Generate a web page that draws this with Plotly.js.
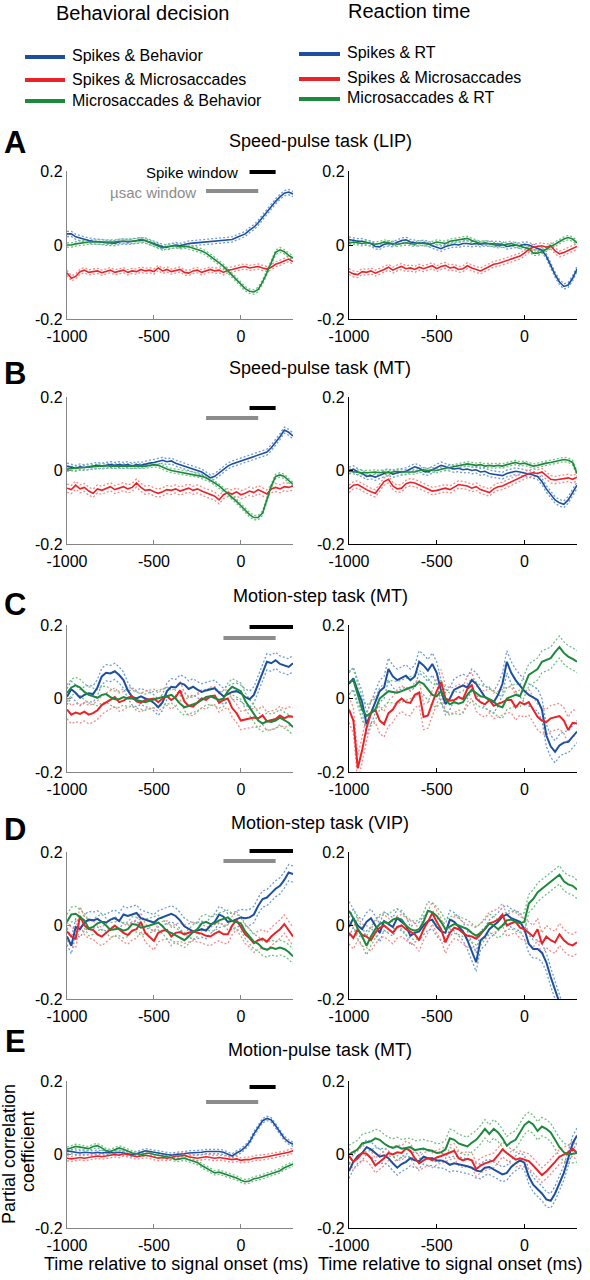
<!DOCTYPE html>
<html><head><meta charset="utf-8">
<script src="https://cdn.plot.ly/plotly-3.0.1.min.js"></script>
<style>html,body{margin:0;padding:0;background:#fff}</style>
</head><body><div id="chart" style="width:590px;height:1280px"></div>
<script>
// ---------- data ----------
const timeMs = [-1000,-975,-950,-925,-900,-875,-850,-825,-800,-775,
-750,-725,-700,-675,-650,-625,-600,-575,-550,-525,
-500,-475,-450,-425,-400,-375,-350,-325,-300,-275,
-250,-225,-200,-175,-150,-125,-100,-75,-50,-25,
0,25,50,75,100,125,150,175,200,225,
250,275,300];

const columnHeaders = ["Behavioral decision", "Reaction time"];
const legendBehavior = ["Spikes & Behavior", "Spikes & Microsaccades", "Microsaccades & Behavior"];
const legendRT = ["Spikes & RT", "Spikes & Microsaccades", "Microsaccades & RT"];
const panelLetters = ["A","B","C","D","E"];
const panelTitles = ["Speed-pulse task (LIP)","Speed-pulse task (MT)","Motion-step task (MT)","Motion-step task (VIP)","Motion-pulse task (MT)"];
const xTickVals = [-1000,-500,0];
const xTickText = ["-1000","-500","0"];
const yTickVals = [-0.2,0,0.2];
const yTickText = ["-0.2","0","0.2"];
const xTitle = "Time relative to signal onset (ms)";
const yTitleLines = ["Partial correlation","coefficient"];

// analysis windows (ms) per row
const spikeWindows = [[50,200],[50,200],[50,300],[50,300],[50,200]];
const usacWindows = [[-200,100],[-200,100],[-100,200],[-100,200],[-200,100]];

// Row A
const A_beh_blue = [0.030,0.030,0.022,0.018,0.015,0.012,0.010,0.010,0.008,0.006,
0.005,0.005,0.008,0.010,0.008,0.010,0.012,0.013,0.012,0.008,
0.005,0.000,-0.005,-0.006,-0.002,0.000,-0.002,0.002,0.004,0.005,
0.006,0.008,0.008,0.010,0.010,0.010,0.012,0.012,0.015,0.020,
0.025,0.030,0.040,0.048,0.060,0.075,0.090,0.105,0.118,0.130,
0.140,0.143,0.138];
const A_beh_red = [-0.075,-0.090,-0.085,-0.072,-0.068,-0.074,-0.072,-0.070,-0.075,-0.072,
-0.068,-0.074,-0.070,-0.068,-0.074,-0.070,-0.072,-0.066,-0.070,-0.068,
-0.072,-0.062,-0.070,-0.066,-0.072,-0.070,-0.066,-0.074,-0.076,-0.070,
-0.068,-0.074,-0.070,-0.066,-0.070,-0.068,-0.074,-0.068,-0.066,-0.062,
-0.060,-0.058,-0.062,-0.060,-0.058,-0.062,-0.065,-0.060,-0.052,-0.048,
-0.042,-0.038,-0.045];
const A_beh_green = [0.000,0.000,0.003,0.005,0.006,0.008,0.008,0.008,0.006,0.007,
0.008,0.008,0.010,0.010,0.008,0.010,0.012,0.015,0.012,0.008,
0.002,-0.003,-0.008,-0.004,-0.003,-0.002,-0.005,-0.003,-0.005,-0.008,
-0.012,-0.016,-0.022,-0.030,-0.038,-0.048,-0.058,-0.070,-0.082,-0.095,
-0.108,-0.118,-0.125,-0.127,-0.120,-0.100,-0.075,-0.045,-0.020,-0.013,
-0.018,-0.028,-0.035];
const A_rt_blue = [0.015,0.012,0.010,0.010,0.008,0.004,-0.004,-0.005,0.002,0.004,
0.002,0.008,0.012,0.014,0.008,0.006,0.004,0.006,0.004,-0.002,
-0.006,-0.010,-0.004,-0.002,0.002,0.000,0.004,0.004,0.002,0.004,
0.002,0.004,0.004,0.002,0.004,0.002,-0.004,-0.002,0.000,-0.002,
0.002,0.000,-0.004,-0.008,-0.014,-0.030,-0.055,-0.080,-0.100,-0.112,
-0.108,-0.090,-0.065];
const A_rt_red = [-0.072,-0.078,-0.080,-0.072,-0.074,-0.070,-0.076,-0.072,-0.066,-0.060,
-0.068,-0.062,-0.058,-0.064,-0.062,-0.066,-0.060,-0.064,-0.060,-0.056,
-0.064,-0.058,-0.055,-0.062,-0.060,-0.066,-0.064,-0.056,-0.062,-0.066,
-0.070,-0.064,-0.058,-0.052,-0.050,-0.046,-0.044,-0.040,-0.036,-0.030,
-0.022,-0.012,-0.006,-0.004,-0.002,-0.006,-0.002,-0.016,-0.024,-0.020,
-0.014,-0.008,-0.004];
const A_rt_green = [0.005,0.008,0.006,0.004,0.006,0.004,0.002,0.004,0.008,0.006,
0.004,0.002,0.004,0.006,0.004,0.002,0.006,0.004,0.002,0.004,
0.008,0.006,0.004,0.010,0.012,0.014,0.016,0.018,0.012,0.008,
0.004,0.006,0.004,0.002,-0.002,0.000,0.002,0.004,0.000,-0.004,
-0.006,-0.010,-0.022,-0.022,-0.018,-0.010,-0.004,0.002,0.010,0.016,
0.020,0.016,0.006];

// Row B
const B_beh_blue = [0.012,0.008,0.006,0.010,0.008,0.010,0.012,0.014,0.012,0.014,
0.016,0.014,0.016,0.014,0.016,0.012,0.016,0.014,0.018,0.020,
0.022,0.024,0.028,0.024,0.026,0.020,0.016,0.012,0.008,0.004,
0.000,-0.004,-0.012,-0.020,-0.016,-0.006,0.004,0.012,0.018,0.022,
0.026,0.030,0.034,0.040,0.044,0.046,0.050,0.062,0.076,0.092,
0.110,0.104,0.094];
const B_beh_red = [-0.048,-0.052,-0.040,-0.050,-0.046,-0.056,-0.062,-0.050,-0.054,-0.048,
-0.044,-0.052,-0.048,-0.044,-0.050,-0.046,-0.034,-0.046,-0.054,-0.052,
-0.058,-0.062,-0.058,-0.052,-0.054,-0.050,-0.056,-0.052,-0.048,-0.054,
-0.050,-0.056,-0.060,-0.064,-0.070,-0.080,-0.066,-0.060,-0.064,-0.058,
-0.066,-0.062,-0.056,-0.060,-0.052,-0.058,-0.064,-0.050,-0.046,-0.050,
-0.044,-0.046,-0.042];
const B_beh_green = [0.004,0.005,0.006,0.008,0.008,0.010,0.010,0.012,0.012,0.013,
0.012,0.012,0.012,0.010,0.010,0.012,0.010,0.012,0.012,0.014,
0.016,0.014,0.008,0.004,0.000,-0.002,-0.004,-0.006,-0.008,-0.010,
-0.012,-0.016,-0.020,-0.026,-0.034,-0.042,-0.052,-0.062,-0.072,-0.084,
-0.096,-0.108,-0.120,-0.128,-0.128,-0.116,-0.080,-0.042,-0.016,-0.012,
-0.016,-0.026,-0.038];
const B_rt_blue = [0.000,0.004,-0.004,-0.008,-0.016,-0.014,-0.018,-0.012,-0.008,-0.004,
-0.010,-0.006,-0.004,-0.002,0.004,0.010,0.006,-0.002,-0.004,0.002,
0.010,0.014,0.010,0.006,0.004,0.006,0.002,0.004,0.000,0.002,
-0.004,-0.002,-0.008,-0.010,-0.012,-0.014,-0.008,-0.004,-0.002,-0.004,
-0.006,-0.010,-0.012,-0.016,-0.030,-0.050,-0.066,-0.080,-0.088,-0.092,
-0.080,-0.060,-0.040];
const B_rt_red = [-0.050,-0.040,-0.038,-0.046,-0.052,-0.058,-0.062,-0.046,-0.030,-0.024,
-0.042,-0.050,-0.048,-0.036,-0.032,-0.034,-0.040,-0.046,-0.052,-0.056,
-0.054,-0.050,-0.048,-0.052,-0.044,-0.038,-0.040,-0.042,-0.048,-0.044,
-0.052,-0.056,-0.060,-0.050,-0.044,-0.042,-0.036,-0.030,-0.026,-0.020,
-0.014,-0.008,-0.006,-0.008,-0.004,-0.014,-0.024,-0.026,-0.024,-0.022,
-0.020,-0.024,-0.018];
const B_rt_green = [-0.002,-0.004,-0.004,-0.006,-0.006,-0.004,-0.004,-0.006,-0.004,-0.006,
-0.004,-0.002,-0.004,-0.004,-0.002,-0.004,0.000,0.002,0.000,0.002,
0.000,0.004,0.006,0.008,0.010,0.012,0.014,0.018,0.016,0.014,
0.016,0.012,0.014,0.012,0.014,0.012,0.016,0.020,0.022,0.018,
0.020,0.016,0.012,0.014,0.018,0.020,0.022,0.024,0.026,0.030,
0.028,0.022,-0.008];

// Row C
const C_beh_blue = [0.005,0.025,0.015,0.002,0.010,0.014,0.012,0.030,0.060,0.070,
0.068,0.074,0.064,0.050,0.022,0.004,0.000,0.006,0.000,-0.004,
-0.012,-0.024,-0.010,0.020,0.032,0.030,0.042,0.038,0.026,0.032,
0.024,0.018,0.022,0.026,0.028,0.016,0.006,0.012,0.018,0.020,
0.014,0.004,-0.002,0.010,0.040,0.070,0.100,0.096,0.104,0.094,
0.090,0.086,0.096];
const C_beh_red = [-0.030,-0.044,-0.038,-0.042,-0.036,-0.044,-0.040,-0.032,-0.018,-0.010,
-0.004,0.004,-0.010,-0.006,0.002,0.006,-0.008,-0.012,-0.004,-0.002,
0.000,-0.010,0.000,0.006,-0.004,0.004,0.022,-0.008,-0.020,-0.022,
-0.010,0.000,-0.004,0.006,0.008,-0.012,-0.004,0.000,-0.026,-0.040,
-0.060,-0.058,-0.056,-0.052,-0.054,-0.046,-0.062,-0.058,-0.056,-0.046,
-0.054,-0.048,-0.050];
const C_beh_green = [0.015,0.030,0.036,0.030,0.018,0.010,0.006,0.002,0.010,0.012,
0.004,-0.002,-0.002,0.004,0.000,0.000,-0.004,-0.008,-0.010,-0.006,
-0.002,0.002,0.004,0.006,0.010,0.000,-0.014,-0.024,-0.020,-0.016,
-0.012,-0.004,0.004,0.006,0.000,-0.004,0.000,0.020,0.032,0.026,
0.020,-0.006,-0.024,-0.042,-0.060,-0.068,-0.062,-0.064,-0.060,-0.052,
-0.060,-0.066,-0.078];
const C_rt_blue = [0.040,0.055,0.020,-0.010,-0.070,-0.040,-0.005,0.020,0.030,0.080,
0.060,0.050,0.056,0.062,0.050,0.060,0.100,0.090,0.076,0.094,
0.070,0.020,-0.015,0.000,0.024,0.030,0.036,0.030,0.050,0.040,
0.020,0.004,-0.004,-0.010,0.010,0.040,0.100,0.070,0.050,0.034,
0.020,0.010,0.004,-0.004,-0.030,-0.100,-0.130,-0.145,-0.128,-0.120,
-0.118,-0.104,-0.090];
const C_rt_red = [-0.030,-0.060,-0.190,-0.140,-0.080,-0.040,-0.030,-0.060,-0.070,-0.040,
-0.030,-0.010,0.000,-0.010,-0.012,0.010,0.016,-0.050,-0.046,-0.010,
0.020,0.044,0.000,-0.006,-0.004,0.004,-0.002,0.026,0.036,0.000,
-0.010,-0.016,-0.004,-0.020,-0.016,-0.010,-0.004,-0.004,-0.024,-0.010,
-0.016,-0.010,-0.030,-0.050,-0.060,-0.064,-0.054,-0.050,-0.048,-0.060,
-0.086,-0.066,-0.068];
const C_rt_green = [0.044,0.050,0.010,-0.030,-0.048,-0.040,-0.030,0.000,0.010,0.020,
0.018,0.016,0.020,0.026,0.030,0.034,0.046,0.040,0.026,0.010,
0.006,0.020,-0.004,-0.016,-0.010,-0.014,-0.010,0.010,0.024,0.014,
0.006,0.004,-0.002,-0.008,-0.020,-0.024,0.000,0.004,0.010,0.006,
0.036,0.064,0.072,0.080,0.100,0.106,0.110,0.126,0.140,0.124,
0.114,0.108,0.100];

// Row D
const D_beh_blue = [-0.030,-0.055,-0.004,-0.010,0.008,0.016,0.014,0.018,0.010,0.008,
0.016,0.020,0.012,0.030,0.026,0.030,0.034,0.020,0.016,0.010,
0.008,0.018,0.022,0.028,0.032,0.026,0.014,-0.002,-0.010,-0.016,
-0.014,-0.010,-0.014,0.000,0.010,0.030,0.024,0.010,0.012,0.018,
0.022,0.020,0.022,0.030,0.054,0.072,0.076,0.088,0.100,0.108,
0.124,0.144,0.140];
const D_beh_red = [-0.016,-0.030,-0.036,0.026,0.000,-0.010,-0.012,-0.024,-0.030,-0.020,
-0.010,0.000,-0.010,-0.020,-0.026,-0.014,-0.010,0.010,-0.020,-0.030,
-0.042,-0.020,-0.014,-0.012,-0.030,-0.020,-0.018,-0.024,-0.020,-0.016,
-0.020,-0.022,-0.028,-0.030,-0.022,-0.016,-0.024,-0.024,0.000,0.014,
-0.004,-0.024,-0.034,-0.048,-0.040,-0.036,-0.044,-0.030,-0.020,-0.010,
0.004,-0.012,-0.030];
const D_beh_green = [0.010,0.030,0.032,0.024,0.014,-0.008,-0.004,0.006,0.010,0.000,
-0.012,-0.010,-0.008,-0.014,-0.010,0.004,0.002,-0.006,-0.004,0.000,
0.004,0.008,-0.002,-0.016,-0.020,-0.026,-0.034,-0.040,-0.030,-0.018,
-0.010,0.006,0.010,0.004,0.006,0.014,0.018,0.022,0.012,0.010,
0.006,-0.016,-0.030,-0.044,-0.050,-0.062,-0.066,-0.060,-0.064,-0.060,
-0.064,-0.072,-0.084];
const D_rt_blue = [-0.004,0.020,0.000,-0.010,0.010,0.020,0.000,-0.020,0.012,0.004,
-0.004,0.020,0.010,0.000,-0.028,-0.020,-0.016,0.000,0.012,0.016,
-0.004,-0.016,-0.020,0.016,0.010,-0.002,-0.016,-0.040,-0.070,-0.100,
-0.040,-0.030,-0.010,0.000,0.010,0.024,0.030,0.020,0.016,0.010,
-0.010,-0.050,-0.064,-0.064,-0.074,-0.100,-0.140,-0.180,-0.215,-0.250,
-0.280,-0.300,-0.320];
const D_rt_red = [-0.020,-0.034,-0.010,-0.026,-0.030,-0.040,-0.020,-0.006,0.000,-0.010,
-0.020,-0.004,0.000,-0.010,-0.016,-0.024,-0.040,-0.010,0.010,0.034,
0.010,-0.010,-0.046,-0.020,-0.006,-0.010,-0.020,-0.028,-0.030,-0.036,
-0.024,-0.010,0.006,0.010,0.016,0.030,0.000,0.006,0.010,-0.006,
-0.010,-0.020,-0.030,-0.010,-0.050,-0.030,-0.040,-0.046,-0.024,-0.040,
-0.050,-0.054,-0.046];
const D_rt_green = [0.040,0.020,-0.010,-0.030,-0.055,-0.030,-0.010,0.004,0.010,0.006,
0.016,0.020,0.016,0.000,-0.010,-0.014,-0.010,0.010,0.040,0.036,
0.026,0.010,-0.010,-0.004,0.004,0.000,-0.006,-0.010,-0.020,-0.028,
-0.020,-0.010,0.006,0.000,-0.010,0.000,0.014,0.016,0.010,0.006,
0.010,0.060,0.072,0.090,0.100,0.110,0.120,0.130,0.138,0.120,
0.112,0.108,0.098];

// Row E
const E_beh_blue = [0.010,0.008,0.006,0.004,0.006,0.004,0.004,0.006,0.004,0.006,
0.004,0.004,0.006,0.004,0.002,0.000,0.002,0.006,0.010,0.008,
0.006,0.004,0.002,0.000,-0.002,0.000,0.000,0.002,0.004,0.004,
0.006,0.006,0.008,0.008,0.010,0.008,0.006,0.000,-0.004,0.004,
0.010,0.020,0.034,0.056,0.076,0.092,0.098,0.094,0.078,0.060,
0.044,0.034,0.028];
const E_beh_red = [-0.010,-0.012,-0.010,-0.008,-0.010,-0.008,-0.006,-0.004,-0.006,-0.004,
-0.002,0.000,-0.002,0.002,0.000,-0.004,-0.006,-0.004,-0.002,-0.004,
-0.006,-0.010,-0.008,-0.010,-0.008,-0.004,-0.004,-0.002,-0.006,-0.008,
-0.010,-0.008,-0.006,-0.008,-0.010,-0.008,-0.010,-0.012,-0.014,-0.012,
-0.016,-0.014,-0.014,-0.010,-0.010,-0.008,-0.006,-0.004,-0.002,0.000,
0.002,0.006,0.010];
const E_beh_green = [0.014,0.018,0.022,0.020,0.018,0.016,0.022,0.024,0.018,0.010,
0.008,0.012,0.018,0.014,0.008,0.004,0.002,0.000,0.002,0.004,
0.000,-0.002,-0.002,-0.004,-0.008,-0.014,-0.012,-0.010,-0.014,-0.018,
-0.022,-0.030,-0.036,-0.044,-0.050,-0.048,-0.052,-0.054,-0.058,-0.064,
-0.070,-0.074,-0.072,-0.066,-0.064,-0.060,-0.058,-0.054,-0.050,-0.044,
-0.036,-0.030,-0.026];
const E_rt_blue = [-0.045,-0.020,-0.004,0.004,0.020,0.014,0.004,-0.006,-0.002,-0.010,
-0.024,-0.036,-0.026,-0.020,-0.010,-0.016,-0.018,-0.006,-0.010,-0.010,
-0.016,-0.016,-0.020,-0.028,-0.024,-0.026,-0.028,-0.032,-0.036,-0.044,
-0.046,-0.036,-0.034,-0.040,-0.046,-0.054,-0.050,-0.034,-0.024,-0.016,
-0.022,-0.060,-0.082,-0.094,-0.106,-0.122,-0.126,-0.106,-0.080,-0.050,
-0.010,0.030,0.052];
const E_rt_red = [-0.004,-0.020,-0.010,0.004,0.002,-0.010,-0.030,-0.020,-0.010,0.004,
0.000,0.006,0.004,0.016,0.010,-0.010,-0.024,-0.016,-0.010,-0.016,
-0.008,-0.004,0.000,0.004,0.010,-0.010,-0.016,-0.012,-0.016,-0.040,
-0.030,-0.024,-0.020,-0.016,-0.002,0.014,0.004,-0.004,-0.014,-0.010,
-0.014,-0.018,-0.030,-0.044,-0.056,-0.046,-0.034,-0.020,-0.006,0.000,
0.006,0.016,0.004];
const E_rt_green = [0.000,0.006,0.014,0.030,0.034,0.036,0.044,0.040,0.030,0.022,
0.018,0.022,0.016,0.018,0.020,0.012,0.014,0.016,0.012,0.010,
0.004,0.006,0.014,0.044,0.040,0.030,0.026,0.022,0.032,0.040,
0.054,0.070,0.056,0.070,0.060,0.044,0.024,0.034,0.040,0.060,
0.080,0.090,0.082,0.064,0.076,0.070,0.060,0.040,0.020,0.006,
0.000,0.002,0.004];

// standard error (half-width of dashed band) per panel: [blue, red, green]
const seA_beh = [0.007,0.007,0.006], seA_rt = [0.007,0.008,0.006];
const seB_beh = [0.008,0.011,0.006], seB_rt = [0.009,0.010,0.006];
const seC_beh = [0.022,0.025,0.022], seC_rt = [0.030,0.035,0.030];
const seD_beh = [0.022,0.025,0.020], seD_rt = [0.025,0.030,0.025];
const seE_beh = [0.006,0.007,0.006], seE_rt = [0.020,0.020,0.025];

// ---------- assembly ----------
const panels = [
  {series:[A_beh_blue,A_beh_red,A_beh_green], se:seA_beh, smooth:true},
  {series:[A_rt_blue,A_rt_red,A_rt_green], se:seA_rt, smooth:true},
  {series:[B_beh_blue,B_beh_red,B_beh_green], se:seB_beh, smooth:true},
  {series:[B_rt_blue,B_rt_red,B_rt_green], se:seB_rt, smooth:true},
  {series:[C_beh_blue,C_beh_red,C_beh_green], se:seC_beh, smooth:false},
  {series:[C_rt_blue,C_rt_red,C_rt_green], se:seC_rt, smooth:false},
  {series:[D_beh_blue,D_beh_red,D_beh_green], se:seD_beh, smooth:false},
  {series:[D_rt_blue,D_rt_red,D_rt_green], se:seD_rt, smooth:false},
  {series:[E_beh_blue,E_beh_red,E_beh_green], se:seE_beh, smooth:true},
  {series:[E_rt_blue,E_rt_red,E_rt_green], se:seE_rt, smooth:false}
];
const solidColors = ["#1c4f9f","#ec2227","#1b8a3c"];
const lightColors = ["#6e9bd8","#f38b8b","#72c283"];

const W = 590, H = 1280;
const px = v => v / W;
const py = v => 1 - v / H;
const colX = [[67,293],[349,577]];
const rowY = [[171,319],[397,544],[625,772],[852,999],[1081,1228]];

const traces = [];
const layout = {
  width: W, height: H, margin:{l:0,r:0,t:0,b:0},
  paper_bgcolor:"#fff", plot_bgcolor:"rgba(0,0,0,0)",
  showlegend:false,
  font:{family:"Liberation Sans, Arial, sans-serif", color:"#000"},
  shapes:[], annotations:[]
};

panels.forEach((p, i) => {
  const row = Math.floor(i/2), col = i % 2, n = i + 1;
  const xa = n === 1 ? "x" : "x" + n, ya = n === 1 ? "y" : "y" + n;
  const axColor = col === 0 ? "#858585" : "#000";
  layout["xaxis" + (n===1?"":n)] = {
    domain:[px(colX[col][0]), px(colX[col][1])], range:[-1000,300], anchor:ya,
    showline:true, linecolor:axColor, linewidth:1.2, ticks:"inside", ticklen:4, tickcolor:axColor,
    tickvals:xTickVals, ticktext:xTickText, tickfont:{size:16,color:"#000"}, ticklabelstandoff:3,
    showgrid:false, zeroline:false, fixedrange:true
  };
  layout["yaxis" + (n===1?"":n)] = {
    domain:[py(rowY[row][1]), py(rowY[row][0])], range:[-0.2,0.2], anchor:xa,
    showline:true, linecolor:axColor, linewidth:1.2, ticks:"inside", ticklen:4, tickcolor:axColor,
    tickvals:yTickVals, ticktext:yTickText, tickfont:{size:16,color:"#000"},
    showgrid:false, zeroline:false, fixedrange:true
  };
  const wSolid = p.smooth ? 1.6 : 2.0;
  p.series.forEach((s, k) => {
    const up = s.map(v => v + p.se[k]);
    const lo = s.map(v => v - p.se[k]);
    [up, lo].forEach(arr => traces.push({
      x: timeMs, y: arr, xaxis: xa, yaxis: ya, type:"scatter", mode:"lines",
      line:{color:lightColors[k], width:1.3, dash:"2px,2px"}, hoverinfo:"skip"
    }));
  });
  p.series.forEach((s, k) => traces.push({
    x: timeMs, y: s, xaxis: xa, yaxis: ya, type:"scatter", mode:"lines",
    line:{color:solidColors[k], width:wSolid}
  }));
});

// window bars (left column only)
const spikeBarY = [172,408,627,851,1087];
const usacBarY = [191,418,638,861,1102];
for (let r = 0; r < 5; r++) {
  const n = r*2 + 1;
  const xa = n === 1 ? "x" : "x" + n;
  layout.shapes.push({type:"line", xref:xa, yref:"paper", x0:spikeWindows[r][0], x1:spikeWindows[r][1],
    y0:py(spikeBarY[r]), y1:py(spikeBarY[r]), line:{color:"#000", width:4}});
  layout.shapes.push({type:"line", xref:xa, yref:"paper", x0:usacWindows[r][0], x1:usacWindows[r][1],
    y0:py(usacBarY[r]), y1:py(usacBarY[r]), line:{color:"#8c8c8c", width:4}});
}
const ann = (text, x, y, opts) => layout.annotations.push(Object.assign({
  text, xref:"paper", yref:"paper", x:px(x), y:py(y), showarrow:false,
  xanchor:"center", yanchor:"middle", font:{size:16,color:"#000"}
}, opts||{}));
ann("Spike window", 240, 172, {xanchor:"right", font:{size:15,color:"#000"}});
ann("µsac window", 198, 192, {xanchor:"right", font:{size:15,color:"#8c8c8c"}});

// column headers
ann(columnHeaders[0], 142, 13, {font:{size:20,color:"#000"}});
ann(columnHeaders[1], 409, 11, {font:{size:20,color:"#000"}});

// legends
const legY1 = [56,79,100], legY2 = [53,78,98];
for (let k = 0; k < 3; k++) {
  layout.shapes.push({type:"line", xref:"paper", yref:"paper", x0:px(25), x1:px(65), y0:py(legY1[k]+1), y1:py(legY1[k]+1), line:{color:solidColors[k], width:4}});
  ann(legendBehavior[k], 70, legY1[k], {xanchor:"left", font:{size:16,color:"#000"}});
  layout.shapes.push({type:"line", xref:"paper", yref:"paper", x0:px(299), x1:px(340), y0:py(legY2[k]+1), y1:py(legY2[k]+1), line:{color:solidColors[k], width:4}});
  ann(legendRT[k], 345, legY2[k], {xanchor:"left", font:{size:16,color:"#000"}});
}

// panel titles and letters
const titleY = [141,368,596,823,1050];
const letterY = [143,373,604,829,1041];
for (let r = 0; r < 5; r++) {
  ann(panelTitles[r], 320, titleY[r], {font:{size:18,color:"#000"}});
  ann("<b>" + panelLetters[r] + "</b>", 15, letterY[r], {font:{size:31,color:"#000"}});
}

// axis titles (bottom row)
ann(xTitle, 176, 1264, {font:{size:18,color:"#000"}});
ann(xTitle, 450, 1264, {font:{size:18,color:"#000"}});
ann(yTitleLines[0], 9, 1154, {textangle:-90, font:{size:18,color:"#000"}});
ann(yTitleLines[1], 28, 1152, {textangle:-90, font:{size:18,color:"#000"}});

Plotly.newPlot("chart", traces, layout, {displayModeBar:false, staticPlot:true});
</script>
</body></html>
